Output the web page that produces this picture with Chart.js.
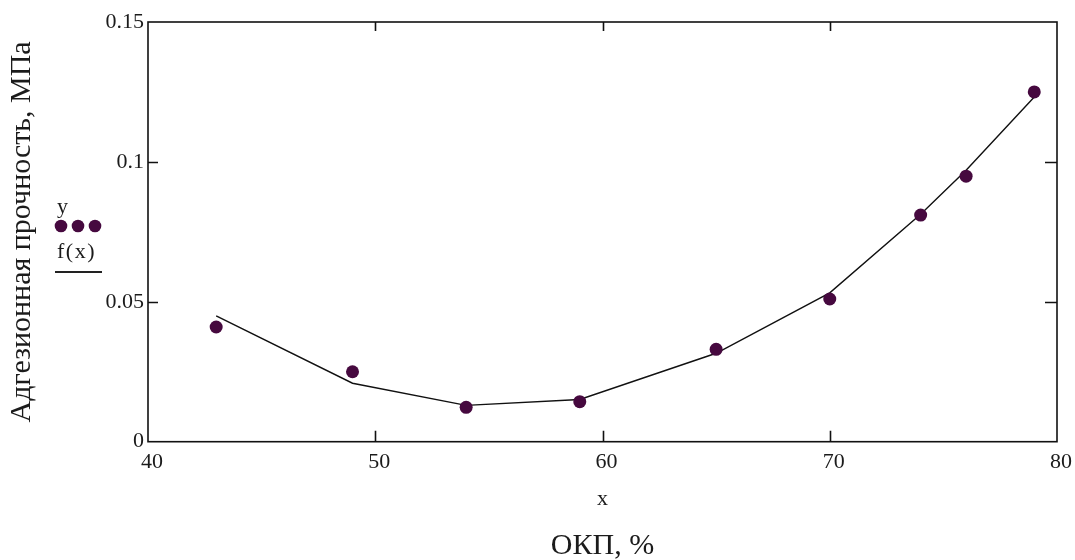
<!DOCTYPE html>
<html>
<head>
<meta charset="utf-8">
<script src="https://cdn.jsdelivr.net/npm/chart.js@4.4.1/dist/chart.umd.min.js"></script>
<style>
  html, body { margin: 0; padding: 0; background: #fff; }
  #wrap { width: 1075px; height: 560px; }
</style>
</head>
<body>
<div id="wrap"><canvas id="chart" width="1075" height="560"></canvas></div>
<script>
// ОКП, % and measured adhesion strength, MPa
const okp = [43, 49, 54, 59, 65, 70, 74, 76, 79];
const strength = [0.041, 0.025, 0.0123, 0.0143, 0.033, 0.051, 0.081, 0.0949, 0.125];
// regression curve f(x) evaluated at the same ОКП values
const fitted = [0.045, 0.0209, 0.0130, 0.0151, 0.0316, 0.0532, 0.0813, 0.0970, 0.1232];
const xTicks = [40, 50, 60, 70, 80];
const yTicks = [0, 0.05, 0.1, 0.15];

const SERIF = "'Liberation Serif', 'Times New Roman', serif";
const POINT_COLOR = '#46093f';
const TEXT_COLOR = '#1b1b1b';

// Mathcad-style box: full frame with short ticks pointing inwards
const frameTicks = {
    id: 'frameTicks',
    beforeDatasetsDraw(chart) {
        const { ctx, chartArea: a, scales: { x, y } } = chart;
        ctx.save();
        ctx.strokeStyle = '#111';
        ctx.lineWidth = 1.6;
        ctx.strokeRect(a.left, a.top, a.right - a.left, a.bottom - a.top);
        ctx.beginPath();
        x.ticks.forEach(t => {
            if (t.value === x.min || t.value === x.max) return;
            const px = Math.round(x.getPixelForValue(t.value)) + 0.5;
            ctx.moveTo(px, a.bottom); ctx.lineTo(px, a.bottom - 11);
            ctx.moveTo(px, a.top); ctx.lineTo(px, a.top + 9);
        });
        y.ticks.forEach(t => {
            if (t.value === y.min || t.value === y.max) return;
            const py = Math.round(y.getPixelForValue(t.value)) + 0.5;
            ctx.moveTo(a.left, py); ctx.lineTo(a.left + 10, py);
            ctx.moveTo(a.right, py); ctx.lineTo(a.right - 12, py);
        });
        ctx.stroke();
        ctx.restore();
    }
};

// trace legend on the left: "y" over three dots, "f(x)" over a solid line
const traceLegend = {
    id: 'traceLegend',
    afterDraw(chart) {
        const ctx = chart.ctx;
        ctx.save();
        ctx.fillStyle = TEXT_COLOR;
        ctx.font = '22px ' + SERIF;
        ctx.textBaseline = 'alphabetic';
        ctx.textAlign = 'left';
        ctx.fillText('y', 57, 213);
        ctx.letterSpacing = '1.5px';
        ctx.fillText('f(x)', 57, 258);
        ctx.fillStyle = POINT_COLOR;
        [61, 78, 95].forEach(cx => {
            ctx.beginPath();
            ctx.arc(cx, 226, 6.3, 0, Math.PI * 2);
            ctx.fill();
        });
        ctx.strokeStyle = '#222';
        ctx.lineWidth = 2;
        ctx.beginPath();
        ctx.moveTo(55, 272);
        ctx.lineTo(102, 272);
        ctx.stroke();
        ctx.restore();
    }
};

const ctx = document.getElementById('chart').getContext('2d');
new Chart(ctx, {
    type: 'scatter',
    data: {
        datasets: [
            {
                label: 'y',
                data: okp.map((v, i) => ({ x: v, y: strength[i] })),
                backgroundColor: POINT_COLOR,
                borderWidth: 0,
                pointRadius: 6.5,
                pointHoverRadius: 6.5,
                order: 1
            },
            {
                label: 'f(x)',
                data: okp.map((v, i) => ({ x: v, y: fitted[i] })),
                showLine: true,
                borderColor: '#111',
                borderWidth: 1.4,
                pointRadius: 0,
                order: 2
            }
        ]
    },
    options: {
        responsive: false,
        animation: false,
        layout: { padding: { top: 22, right: 16, bottom: -4, left: 0 } },
        plugins: {
            legend: { display: false },
            tooltip: { enabled: false },
            title: {
                display: true,
                position: 'bottom',
                fullSize: false,
                text: 'ОКП, %',
                color: TEXT_COLOR,
                font: { family: SERIF, size: 30, weight: 'normal' },
                padding: { top: 0, bottom: 0 }
            }
        },
        scales: {
            x: {
                type: 'linear',
                min: 40,
                max: 80,
                afterBuildTicks: scale => { scale.ticks = xTicks.map(v => ({ value: v })); },
                afterFit: scale => { scale.height = 86.3; },
                grid: { display: false, drawTicks: false },
                border: { display: false },
                ticks: {
                    padding: 7,
                    labelOffset: 4,
                    color: TEXT_COLOR,
                    font: { family: SERIF, size: 22 }
                },
                title: {
                    display: true,
                    text: 'x',
                    color: TEXT_COLOR,
                    font: { family: SERIF, size: 22 },
                    padding: { top: 0, bottom: 16 }
                }
            },
            y: {
                type: 'linear',
                min: 0,
                max: 0.15,
                afterBuildTicks: scale => { scale.ticks = yTicks.map(v => ({ value: v })); },
                afterFit: scale => { scale.width = 148; },
                grid: { display: false, drawTicks: false },
                border: { display: false },
                ticks: {
                    padding: 4,
                    color: TEXT_COLOR,
                    font: { family: SERIF, size: 22 },
                    callback: v => String(v)
                },
                title: {
                    display: true,
                    text: 'Адгезионная прочность, МПа',
                    color: TEXT_COLOR,
                    font: { family: SERIF, size: 30 },
                    padding: { top: 4, bottom: 0 }
                }
            }
        }
    },
    plugins: [frameTicks, traceLegend]
});
</script>
</body>
</html>
